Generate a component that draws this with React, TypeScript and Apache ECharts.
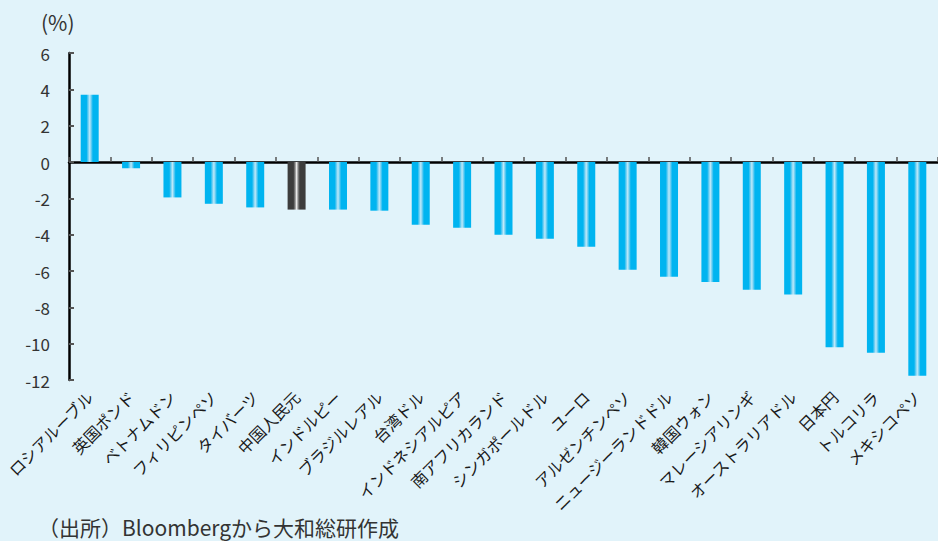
import React, { useEffect, useRef } from "react";
import * as echarts from "echarts";

// Currency names, in chart order
const currencies = [
  "ロシアルーブル",
  "英国ポンド",
  "ベトナムドン",
  "フィリピンペソ",
  "タイバーツ",
  "中国人民元",
  "インドルピー",
  "ブラジルレアル",
  "台湾ドル",
  "インドネシアルピア",
  "南アフリカランド",
  "シンガポールドル",
  "ユーロ",
  "アルゼンチンペソ",
  "ニュージーランドドル",
  "韓国ウォン",
  "マレーシアリンギ",
  "オーストラリアドル",
  "日本円",
  "トルコリラ",
  "メキシコペソ",
];

// Change versus the US dollar (%)
const changes = [
  3.7, -0.35, -1.95, -2.3, -2.5, -2.62, -2.62, -2.68, -3.45, -3.62, -4.0,
  -4.22, -4.66, -5.93, -6.31, -6.6, -7.03, -7.3, -10.2, -10.5, -11.77,
];

// The currency drawn in dark grey
const highlighted = "中国人民元";

// Y axis range
const yMin = -12;
const yMax = 6;
const yStep = 2;

const unitLabel = "(%)";
const sourceNote = "（出所）Bloombergから大和総研作成";

const FONT = '"Noto Sans CJK JP", "Noto Sans", sans-serif';

const stripe = (base: string, mid: string, light: string) =>
  new echarts.graphic.LinearGradient(0, 0, 1, 0, [
    { offset: 0, color: base },
    { offset: 0.32, color: base },
    { offset: 0.42, color: mid },
    { offset: 0.5, color: light },
    { offset: 0.58, color: mid },
    { offset: 0.68, color: base },
    { offset: 1, color: base },
  ]);

export default function App() {
  const ref = useRef<HTMLDivElement>(null);

  useEffect(() => {
    if (!ref.current) return;
    const chart = echarts.init(ref.current, undefined, { renderer: "svg" });

    const blue = stripe("#00b4f0", "#6fcff3", "#bfe9f9");
    const dark = stripe("#3c3c3c", "#8a8a8a", "#f0f0f0");

    const data = changes.map((v, i) => ({
      value: v,
      itemStyle: { color: currencies[i] === highlighted ? dark : blue },
    }));

    chart.setOption({
      animation: false,
      backgroundColor: "#e1f3fa",
      grid: { left: 69, right: -4, top: 53, bottom: 161, containLabel: false },
      xAxis: [
        {
          type: "category",
          data: currencies,
          boundaryGap: true,
          axisLine: { onZero: true, lineStyle: { color: "#000", width: 2.5 } },
          axisTick: {
            show: true,
            inside: true,
            interval: 0,
            length: 5,
            lineStyle: { color: "#555", width: 1.5 },
          },
          axisLabel: { show: false },
          splitLine: { show: false },
        },
        {
          type: "category",
          data: currencies,
          position: "bottom",
          boundaryGap: true,
          axisLine: { show: false, onZero: false },
          axisTick: { show: false },
          axisLabel: {
            interval: 0,
            rotate: 45,
            margin: 14,
            fontFamily: FONT,
            fontSize: 16,
            color: "#1a1a1a",
          },
          splitLine: { show: false },
        },
      ],
      yAxis: {
        type: "value",
        min: yMin,
        max: yMax,
        interval: yStep,
        axisLine: { show: true, lineStyle: { color: "#000", width: 2.5 } },
        axisTick: {
          show: true,
          inside: true,
          length: 5,
          lineStyle: { color: "#555", width: 2 },
        },
        axisLabel: {
          margin: 19,
          fontFamily: FONT,
          fontSize: 17,
          color: "#333",
        },
        splitLine: { show: false },
      },
      series: [
        {
          type: "bar",
          xAxisIndex: 0,
          data,
          barWidth: 18,
        },
      ],
      graphic: [
        {
          type: "text",
          left: 41,
          top: 11,
          style: {
            text: unitLabel,
            font: `21px ${FONT}`,
            fill: "#333",
          },
        },
        {
          type: "text",
          left: 38,
          top: 516,
          style: {
            text: sourceNote,
            font: `21px ${FONT}`,
            fill: "#333",
          },
        },
      ],
    });

    return () => chart.dispose();
  }, []);

  return (
    <div
      ref={ref}
      style={{ position: "fixed", left: 0, top: 0, width: 938, height: 541 }}
    />
  );
}
